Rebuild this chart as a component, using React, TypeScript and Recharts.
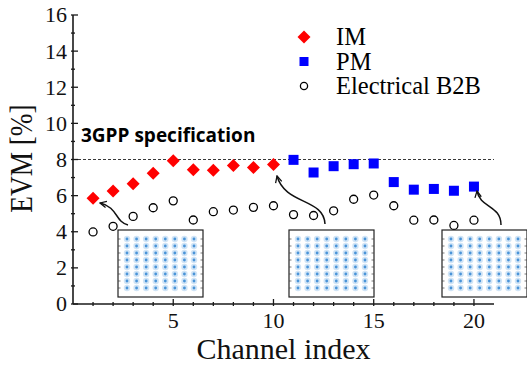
import React from 'react';
import { ScatterChart, Scatter, XAxis, YAxis, ReferenceLine, Legend, Label } from 'recharts';

// channel index / EVM [%]
const imChannel = [1, 2, 3, 4, 5, 6, 7, 8, 9, 10];
const imEvm = [5.85, 6.25, 6.66, 7.24, 7.93, 7.43, 7.41, 7.67, 7.56, 7.72];

const pmChannel = [11, 12, 13, 14, 15, 16, 17, 18, 19, 20];
const pmEvm = [7.98, 7.28, 7.63, 7.74, 7.78, 6.75, 6.33, 6.37, 6.27, 6.5];

const b2bChannel = [1, 2, 3, 4, 5, 6, 7, 8, 9, 10, 11, 12, 13, 14, 15, 16, 17, 18, 19, 20];
const b2bEvm = [3.99, 4.3, 4.85, 5.33, 5.71, 4.65, 5.11, 5.2, 5.35, 5.44, 4.95, 4.9, 5.16, 5.8, 6.03, 5.44, 4.64, 4.65, 4.35, 4.64];

const xTicks = [1, 2, 3, 4, 5, 6, 7, 8, 9, 10, 11, 12, 13, 14, 15, 16, 17, 18, 19, 20];
const yTicks = [0, 1, 2, 3, 4, 5, 6, 7, 8, 9, 10, 11, 12, 13, 14, 15, 16];
const specLimit = 8;
const seriesNames = ['IM', 'PM', 'Electrical B2B'];
const qamLevels = [-7, -5, -3, -1, 1, 3, 5, 7];

const imData = imChannel.map((c, i) => ({ channel: c, evm: imEvm[i] }));
const pmData = pmChannel.map((c, i) => ({ channel: c, evm: pmEvm[i] }));
const b2bData = b2bChannel.map((c, i) => ({ channel: c, evm: b2bEvm[i] }));

const AXIS = '#1a1a1a';
const serif = "'Liberation Serif', 'Times New Roman', serif";

const Diamond = ({ cx, cy, r = 6.5 }: any) => (
  <path d={`M${cx},${cy - r}L${cx + r},${cy}L${cx},${cy + r}L${cx - r},${cy}Z`} fill="#ff0000" />
);
const Square = ({ cx, cy, s = 10 }: any) => (
  <rect x={cx - s / 2} y={cy - s / 2} width={s} height={s} fill="#0000ff" />
);
const Ring = ({ cx, cy, r = 4 }: any) => (
  <circle cx={cx} cy={cy} r={r} fill="#fff" stroke="#000" strokeWidth={1.3} />
);

const BottomTick = ({ x, y, payload }: any) => {
  const v = payload.value;
  const major = v % 5 === 0;
  return (
    <g>
      <line x1={x} x2={x} y1={y} y2={y - (major ? 7 : 4)} stroke={AXIS} strokeWidth={1.3} />
      {major && (
        <text x={x} y={y + 22} textAnchor="middle" fontSize={22} style={{ fontFamily: serif }} fill="#111">{v}</text>
      )}
    </g>
  );
};
const TopTick = ({ x, y, payload }: any) => {
  const major = payload.value % 5 === 0;
  return <line x1={x} x2={x} y1={y} y2={y + (major ? 7 : 4)} stroke={AXIS} strokeWidth={1.3} />;
};
const LeftTick = ({ x, y, payload }: any) => {
  const v = payload.value;
  const major = v % 2 === 0;
  return (
    <g>
      <line x1={x} x2={x + (major ? 7 : 4)} y1={y} y2={y} stroke={AXIS} strokeWidth={1.3} />
      {major && (
        <text x={x - 4} y={y} dy="0.34em" textAnchor="end" fontSize={22} style={{ fontFamily: serif }} fill="#111">{v}</text>
      )}
    </g>
  );
};
const RightTick = ({ x, y, payload }: any) => {
  const major = payload.value % 2 === 0;
  return <line x1={x} x2={x - (major ? 7 : 4)} y1={y} y2={y} stroke={AXIS} strokeWidth={1.3} />;
};

const legendMarkers: Record<string, (cx: number, cy: number) => React.ReactNode> = {
  IM: (cx, cy) => <Diamond cx={cx} cy={cy} r={6.5} />,
  PM: (cx, cy) => <Square cx={cx} cy={cy} s={9} />,
  'Electrical B2B': (cx, cy) => <Ring cx={cx} cy={cy} r={3.6} />,
};

// keep the series order (recharts sorts legend items by name)
const LegendBox = ({ payload }: any) => {
  const items = [...(payload || [])].sort(
    (a: any, b: any) => seriesNames.indexOf(a.value) - seriesNames.indexOf(b.value)
  );
  return (
    <svg width={220} height={80}>
      {items.map((entry: any, i: number) => {
        const cy = 15 + i * 24.5;
        return (
          <g key={entry.value}>
            {legendMarkers[entry.value]?.(9, cy)}
            <text x={41} y={cy + 8} fontSize={24.5} style={{ fontFamily: serif }} fill="#000">{entry.value}</text>
          </g>
        );
      })}
    </svg>
  );
};

const Constellation = ({ left, top }: { left: number; top: number }) => {
  const w = 85;
  const h = 67;
  const gx = (v: number) => left + 9 + ((v + 7) / 14) * (w - 18);
  const gy = (v: number) => top + 9 + ((v + 7) / 14) * (h - 18);
  return (
    <g>
      <rect x={left} y={top} width={w} height={h} fill="#fff" stroke="#222" strokeWidth={1.2} />
      {qamLevels.map((q) => (
        <g key={'t' + q}>
          <line x1={left} x2={left + 2.5} y1={gy(q)} y2={gy(q)} stroke="#444" strokeWidth={0.7} />
          <line x1={left + w} x2={left + w - 2.5} y1={gy(q)} y2={gy(q)} stroke="#444" strokeWidth={0.7} />
        </g>
      ))}
      {qamLevels.map((a) =>
        qamLevels.map((b) => (
          <g key={a + '_' + b}>
            <circle cx={gx(a)} cy={gy(b)} r={3.2} fill="#a9cdee" opacity={0.55} />
            <circle cx={gx(a)} cy={gy(b)} r={1.4} fill="#4a94d8" />
          </g>
        ))
      )}
    </g>
  );
};

const arrowPaths = [
  'M128,225 C115,222 118,207 100,203',
  'M325,224 C324,198 285,205 277,176',
  'M501,225 C501,205 480,208 477,191',
];
const insetSpots = [
  { left: 118, top: 230 },
  { left: 289, top: 230 },
  { left: 442, top: 230 },
];

export default function App() {
  return (
    <div style={{ position: 'absolute', left: 0, top: 0, width: 527, height: 365, background: '#fff' }}>
      <ScatterChart width={527} height={365} margin={{ top: 15, right: 33, bottom: 0, left: 0 }}>
        <XAxis
          xAxisId="bottom" type="number" dataKey="channel" domain={[0, 21]} ticks={xTicks} interval={0}
          height={61} tickSize={0} tickLine={false} tick={<BottomTick />} allowDataOverflow
          axisLine={{ stroke: AXIS, strokeWidth: 1.6 }}
        >
          <Label
            content={(p: any) => {
              const vb = p.viewBox;
              return (
                <text x={vb.x + vb.width / 2} y={359} textAnchor="middle" fontSize={30} style={{ fontFamily: serif }} fill="#111">
                  Channel index
                </text>
              );
            }}
          />
        </XAxis>
        <XAxis
          xAxisId="top" orientation="top" type="number" domain={[0, 21]} ticks={xTicks} interval={0}
          height={0} tickSize={0} tickLine={false} tick={<TopTick />} allowDataOverflow
          axisLine={{ stroke: AXIS, strokeWidth: 1.6 }}
        />
        <YAxis
          yAxisId="left" type="number" dataKey="evm" domain={[0, 16]} ticks={yTicks} interval={0}
          width={73} tickSize={0} tickLine={false} tick={<LeftTick />} allowDataOverflow
          axisLine={{ stroke: AXIS, strokeWidth: 1.6 }}
        >
          <Label
            content={(p: any) => {
              const vb = p.viewBox;
              const cy = vb.y + vb.height / 2 - 1;
              return (
                <text transform={`translate(32,${cy}) rotate(-90) scale(0.88,1)`} textAnchor="middle" fontSize={31} style={{ fontFamily: serif }} fill="#111">
                  EVM [%]
                </text>
              );
            }}
          />
        </YAxis>
        <YAxis
          yAxisId="right" orientation="right" type="number" domain={[0, 16]} ticks={yTicks} interval={0}
          width={0} tickSize={0} tickLine={false} tick={<RightTick />} allowDataOverflow
          axisLine={{ stroke: AXIS, strokeWidth: 1.6 }}
        />
        <ReferenceLine
          xAxisId="bottom" yAxisId="left" y={specLimit} stroke="#222" strokeWidth={0.9} strokeDasharray="3 2"
          label={(p: any) => {
            const vb = p.viewBox;
            return (
              <text x={vb.x + 8} y={vb.y - 17.5} fontSize={19} fontWeight={700} style={{ fontFamily: "'Open Sans', sans-serif" }} fill="#000">
                3GPP specification
              </text>
            );
          }}
        />
        <Legend
          layout="vertical" align="center" verticalAlign="middle"
          wrapperStyle={{ top: 22, left: 295, width: 220 }}
          content={<LegendBox />}
        />
        <Scatter name={seriesNames[0]} data={imData} xAxisId="bottom" yAxisId="left" shape={<Diamond />} isAnimationActive={false} legendType="diamond" />
        <Scatter name={seriesNames[1]} data={pmData} xAxisId="bottom" yAxisId="left" shape={<Square />} isAnimationActive={false} legendType="square" />
        <Scatter name={seriesNames[2]} data={b2bData} xAxisId="bottom" yAxisId="left" shape={<Ring />} isAnimationActive={false} legendType="circle" />
      </ScatterChart>
      <svg width={527} height={365} style={{ position: 'absolute', left: 0, top: 0, pointerEvents: 'none' }}>
        <defs>
          <marker id="arrowHead" viewBox="0 0 10 10" refX={9} refY={5} markerWidth={8} markerHeight={8} markerUnits="userSpaceOnUse" orient="auto">
            <path d="M1,1 L9,5 L1,9" fill="none" stroke="#111" strokeWidth={1.6} />
          </marker>
        </defs>
        {arrowPaths.map((d) => (
          <path key={d} d={d} fill="none" stroke="#111" strokeWidth={1.5} markerEnd="url(#arrowHead)" />
        ))}
        {insetSpots.map((s) => (
          <Constellation key={s.left} left={s.left} top={s.top} />
        ))}
      </svg>
    </div>
  );
}
